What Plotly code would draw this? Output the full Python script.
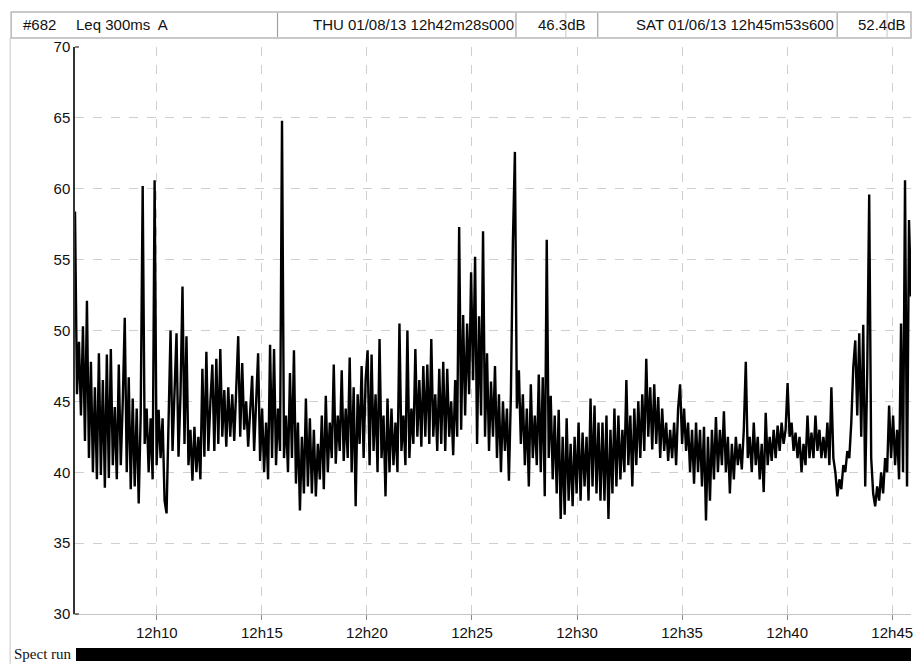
import plotly.graph_objects as go
import pandas as pd

# ---------------- data ----------------
start_time = "2013-08-01 12:06:06.4"
end_time = "2013-08-01 12:45:53.6"

# Leq 300ms A-weighted level (dB), left to right
leq_db = [
    58.4, 45.5, 49.2, 44.0, 50.3, 42.2, 52.1, 41.0, 47.8, 40.0,
    46.0, 39.5, 48.4, 39.8, 46.5, 38.9, 48.3, 39.6, 48.7, 40.5,
    44.6, 39.5, 47.6, 40.5, 45.0, 50.9, 40.0, 46.7, 38.8, 45.2,
    39.0, 44.5, 37.8, 44.0, 60.2, 42.0, 44.5, 40.0, 43.8, 39.5,
    60.6, 40.5, 44.4, 41.0, 43.8, 38.0, 37.1, 44.0, 50.0, 41.5,
    46.0, 49.8, 41.1, 45.5, 53.1, 42.0, 49.6, 40.5, 43.0, 39.4,
    43.2, 40.0, 42.5, 39.5, 47.3, 41.1, 48.5, 41.5, 44.9, 47.6,
    41.5, 48.0, 42.0, 48.7, 42.5, 45.8, 41.8, 46.0, 42.5, 45.5,
    42.2, 46.5, 49.6, 42.5, 47.7, 43.0, 45.0, 41.8, 44.0, 46.8,
    41.5, 45.5, 48.4, 40.8, 44.5, 40.0, 43.5, 39.5, 49.0, 41.0,
    48.7, 40.5, 44.5, 41.5, 64.8, 41.0, 44.0, 40.0, 47.0, 41.0,
    48.6, 39.2, 43.5, 37.3, 42.5, 38.5, 45.2, 39.0, 43.8, 38.5,
    43.0, 38.3, 42.0, 39.5, 44.0, 38.8, 45.4, 40.0, 43.5, 41.0,
    47.6, 40.6, 44.0, 41.5, 47.2, 40.8, 44.5, 41.0, 48.1, 40.0,
    46.0, 37.6, 45.5, 42.0, 47.5, 41.0, 46.5, 48.6, 40.5, 48.3,
    41.5, 45.5, 40.0, 49.4, 41.0, 44.0, 38.3, 45.2, 40.0, 44.5,
    40.5, 43.5, 40.0, 50.5, 41.5, 44.0, 40.5, 50.0, 41.0, 44.5,
    42.0, 48.7, 42.5, 46.5, 41.8, 47.5, 42.5, 47.6, 42.0, 49.4,
    42.5, 45.5, 41.5, 47.3, 42.0, 47.8, 41.5, 47.3, 42.5, 45.0,
    41.2, 46.5, 42.5, 57.3, 43.0, 51.1, 44.0, 50.5, 45.5, 54.1,
    46.5, 55.2, 42.0, 51.0, 44.0, 57.0, 42.5, 48.4, 41.5, 46.4,
    42.5, 47.5, 41.0, 45.5, 40.0, 45.0, 41.5, 44.5, 39.4, 45.5,
    56.3, 62.6, 44.5, 47.2, 42.0, 45.5, 40.5, 44.5, 39.0, 46.2,
    41.0, 44.0, 40.5, 46.9, 40.0, 46.7, 38.3, 56.4, 41.0, 45.4,
    39.5, 44.0, 38.5, 44.4, 36.7, 42.5, 37.0, 43.8, 38.0, 42.0,
    37.6, 42.5, 38.5, 43.5, 38.0, 42.8, 39.0, 42.5, 38.0, 45.2,
    39.0, 44.7, 38.5, 43.5, 38.0, 43.5, 38.0, 44.0, 36.7, 43.0,
    38.5, 44.5, 39.0, 44.0, 39.5, 43.0, 40.0, 46.5, 40.5, 44.0,
    39.0, 44.5, 40.5, 45.0, 41.0, 45.5, 41.5, 48.0, 42.5, 46.0,
    41.6, 46.2, 42.0, 45.3, 41.0, 44.5, 41.5, 43.5, 40.8, 43.0,
    41.0, 43.5, 40.5, 44.5, 46.2, 42.0, 44.5, 41.5, 43.5, 40.0,
    43.0, 39.2, 43.5, 40.0, 43.0, 39.0, 43.2, 36.6, 42.5, 38.0,
    43.0, 39.5, 43.9, 40.0, 43.0, 40.5, 44.3, 40.0, 42.5, 38.5,
    42.0, 39.5, 42.5, 40.5, 42.0, 40.2, 43.0, 47.8, 41.0, 42.5,
    40.0, 43.5, 40.5, 42.5, 39.5, 42.0, 38.6, 44.2, 40.5, 42.5,
    40.8, 43.0, 41.0, 43.3, 41.5, 43.5, 42.0, 43.0, 46.3, 42.5,
    43.5, 41.5, 42.8, 41.0, 42.5, 40.0, 42.0, 40.5, 44.0, 41.0,
    42.8, 41.0, 44.0, 41.5, 43.0, 41.0, 42.5, 41.0, 43.5, 40.5,
    46.0, 41.0, 40.0, 38.3, 39.5, 38.8, 40.5, 40.0, 41.5, 41.0,
    43.5, 47.4, 49.3, 44.0, 49.8, 42.5, 50.4, 39.0, 47.0, 59.6,
    41.0, 38.5, 37.6, 39.0, 38.0, 40.0, 38.5, 41.0, 40.0, 44.7,
    41.0, 44.0, 40.5, 43.0, 39.5, 50.5, 40.0, 60.6, 39.0, 57.8,
    52.4,
]

tick_times = ["2013-08-01 12:10", "2013-08-01 12:15", "2013-08-01 12:20",
              "2013-08-01 12:25", "2013-08-01 12:30", "2013-08-01 12:35",
              "2013-08-01 12:40", "2013-08-01 12:45"]
tick_labels = ["12h10", "12h15", "12h20", "12h25", "12h30", "12h35", "12h40", "12h45"]
y_ticks = [30, 35, 40, 45, 50, 55, 60, 65, 70]

header_id = "#682"
header_measure = "Leq 300ms  A"
cursor1_time = "THU 01/08/13 12h42m28s000"
cursor1_value = "46.3dB"
cursor2_time = "SAT 01/06/13 12h45m53s600"
cursor2_value = "52.4dB"
bottom_label = "Spect run"

# ---------------- layout geometry ----------------
W, H = 916, 664
L, R, T, B = 75, 3, 47, 50
PW, PH = W - L - R, H - T - B


def px(x):
    return (x - L) / PW


def py(y):
    return (H - B - y) / PH


times = pd.date_range(start_time, end_time, periods=len(leq_db))

fig = go.Figure()
fig.add_trace(go.Scatter(
    x=times, y=leq_db, mode="lines",
    line=dict(color="#000000", width=2.4),
    hoverinfo="x+y", showlegend=False,
))

FONT = "Liberation Sans, Arial, sans-serif"

shapes = []
annotations = []

# header box and cells
shapes.append(dict(type="rect", xref="paper", yref="paper",
                   x0=px(11), x1=px(913), y0=py(38), y1=py(12),
                   line=dict(color="#b8b8b8", width=1.5), fillcolor="white", layer="above"))
for xd, col in [(278, "#a0a0a0"), (517, "#a0a0a0"), (567, "#d0d0d0"),
                (599, "#a0a0a0"), (839, "#a0a0a0"), (889, "#d0d0d0")]:
    shapes.append(dict(type="line", xref="paper", yref="paper",
                       x0=px(xd), x1=px(xd), y0=py(37), y1=py(13),
                       line=dict(color=col, width=1.2), layer="above"))

for text, x, anchor in [(header_id, 21, "left"), (header_measure, 74, "left"),
                        (cursor1_time, 517, "right"), (cursor1_value, 589, "right"),
                        (cursor2_time, 838, "right"), (cursor2_value, 910, "right")]:
    annotations.append(dict(text=text, xref="paper", yref="paper",
                            x=px(x), y=py(25), xanchor=anchor, yanchor="middle",
                            showarrow=False,
                            font=dict(family=FONT, size=15, color="#111111")))

# outer left frame line
shapes.append(dict(type="line", xref="paper", yref="paper",
                   x0=px(10), x1=px(10), y0=py(38), y1=py(664),
                   line=dict(color="#c8c8c8", width=1)))

# small end ticks of the y axis
for yy in (47, 614):
    shapes.append(dict(type="line", xref="paper", yref="paper",
                       x0=px(75), x1=px(79), y0=py(yy), y1=py(yy),
                       line=dict(color="#333333", width=1.2)))

# bottom run bar
shapes.append(dict(type="rect", xref="paper", yref="paper",
                   x0=px(76), x1=px(913), y0=py(661), y1=py(648),
                   line=dict(width=0), fillcolor="#000000"))
annotations.append(dict(text=bottom_label, xref="paper", yref="paper",
                        x=px(74), y=py(654), xanchor="right", yanchor="middle",
                        showarrow=False,
                        font=dict(family="Liberation Serif, Times New Roman, serif",
                                  size=15, color="#111111")))

fig.update_layout(
    width=W, height=H,
    margin=dict(l=L, r=R, t=T, b=B, pad=0),
    paper_bgcolor="white", plot_bgcolor="white",
    font=dict(family=FONT, size=15, color="#111111"),
    shapes=shapes, annotations=annotations,
    showlegend=False,
)

fig.update_xaxes(
    range=[times[0], times[-1]],
    tickvals=pd.to_datetime(tick_times), ticktext=tick_labels,
    showgrid=True, gridcolor="#cfcfcf", griddash="dash", gridwidth=1,
    showline=True, linecolor="#c4c4c4", linewidth=1,
    ticks="outside", ticklen=5, tickcolor="#888888",
    tickfont=dict(family=FONT, size=15, color="#111111"),
    zeroline=False,
)
fig.update_yaxes(
    range=[30, 70], tickvals=y_ticks,
    showgrid=True, gridcolor="#cfcfcf", griddash="dash", gridwidth=1,
    showline=True, linecolor="#333333", linewidth=1.5,
    ticks="", ticklabelstandoff=0,
    tickfont=dict(family=FONT, size=15, color="#111111"),
    zeroline=False,
)

fig.write_html("out.html")
